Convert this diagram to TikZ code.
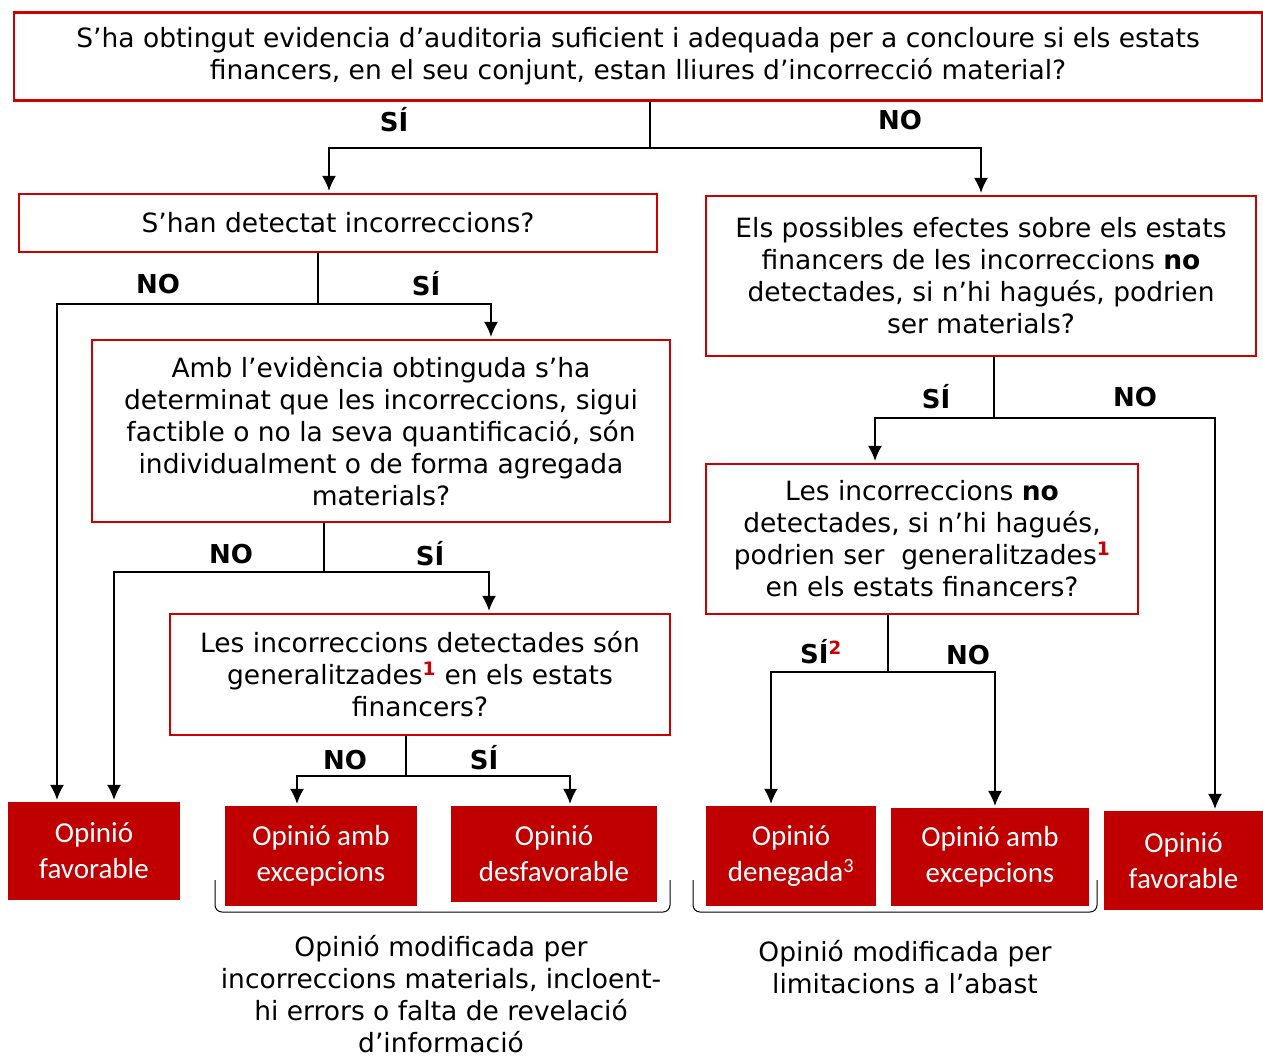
\documentclass[tikz,border=0pt]{standalone}
\usepackage{fontspec}
\setmainfont{DejaVu Sans}
\newfontfamily\calfont{Carlito}
\usetikzlibrary{arrows.meta, positioning}
\definecolor{boxred}{RGB}{204,0,0}
\definecolor{fillred}{RGB}{192,0,0}
\newcommand{\notemark}[1]{\textsuperscript{\textcolor{boxred}{\bfseries #1}}}
\tikzset{
  question/.style={rectangle, draw=boxred, line width=2.5pt, align=center, inner sep=0pt, font=\fontsize{26.5}{32}\selectfont},
  opinion/.style={rectangle, fill=fillred, text=white, align=center, inner sep=0pt, font=\calfont\fontsize{29}{36}\selectfont},
  answer/.style={font=\bfseries\fontsize{26}{30}\selectfont},
  link/.style={line width=1.2pt},
  arr/.style={line width=1.2pt, -{Latex[length=15pt,width=14pt]}, shorten >=2pt},
  bracket/.style={line width=1pt, rounded corners=7pt}
}

\begin{document}
\begin{tikzpicture}[x=1pt,y=-1pt]
\useasboundingbox (0,0) rectangle (1263,1055);

\node [question, minimum width=1248pt, minimum height=88pt] (top) at (638,56.5) {S’ha obtingut evidencia d’auditoria suficient i adequada per a concloure si els estats\\ financers, en el seu conjunt, estan lliures d’incorrecció material?};
\node [question, minimum width=638pt, minimum height=58pt] (q1) at (338,223) {S’han detectat incorreccions?};
\node [question, minimum width=550pt, minimum height=160pt] (q2) at (981,276) {Els possibles efectes sobre els estats\\ financers de les incorreccions \textbf{no}\\ detectades, si n’hi hagués, podrien\\ ser materials?};
\node [question, minimum width=578pt, minimum height=182pt] (q3) at (381,431) {Amb l’evidència obtinguda s’ha\\ determinat que les incorreccions, sigui\\ factible o no la seva quantificació, són\\ individualment o de forma agregada\\ materials?};
\node [question, minimum width=432pt, minimum height=150pt] (q4) at (922,539) {Les incorreccions \textbf{no}\\ detectades, si n’hi hagués,\\ podrien ser \ generalitzades\notemark{1}\\ en els estats financers?};
\node [question, minimum width=500pt, minimum height=121pt] (q5) at (420,674.5) {Les incorreccions detectades són\\ generalitzades\notemark{1} en els estats\\ financers?};

\node [opinion, minimum width=172pt, minimum height=98pt] (f1) at (94,851) {Opinió\\ favorable};
\node [opinion, minimum width=192pt, minimum height=100pt] (f2) at (321,856) {Opinió amb\\ excepcions};
\node [opinion, minimum width=206pt, minimum height=96pt] (f3) at (554,854) {Opinió\\ desfavorable};
\node [opinion, minimum width=170pt, minimum height=100pt] (f4) at (791,856) {Opinió\\ denegada\textsuperscript{3}};
\node [opinion, minimum width=198pt, minimum height=98pt] (f5) at (990,857) {Opinió amb\\ excepcions};
\node [opinion, minimum width=159pt, minimum height=99pt] (f6) at (1183.5,860.5) {Opinió\\ favorable};

\coordinate (s0) at (650,148);
\coordinate (s1) at (318,304);
\coordinate (s3) at (324,572);
\coordinate (s5) at (406,776);
\coordinate (s2) at (994,418);
\coordinate (s4) at (888,672);

\draw [link] (s0 |- top.south) -- (s0);
\draw [arr] (s0) -| ([xshift=-9pt]q1.north);
\draw [arr] (s0) -| (q2.north);
\draw [link] (s1 |- q1.south) -- (s1);
\draw [arr] (s1) -| ([xshift=-37pt]f1.north);
\draw [arr] (s1) -| ([xshift=110pt]q3.north);
\draw [link] (s3 |- q3.south) -- (s3);
\draw [arr] (s3) -| ([xshift=20pt]f1.north);
\draw [arr] (s3) -| ([xshift=69pt]q5.north);
\draw [link] (s5 |- q5.south) -- (s5);
\draw [arr] (s5) -| ([xshift=-24pt]f2.north);
\draw [arr] (s5) -| ([xshift=16pt]f3.north);
\draw [link] (s2 |- q2.south) -- (s2);
\draw [arr] (s2) -| ([xshift=-47pt]q4.north);
\draw [arr] (s2) -| ([xshift=31.5pt]f6.north);
\draw [link] (s4 |- q4.south) -- (s4);
\draw [arr] (s4) -| ([xshift=-20pt]f4.north);
\draw [arr] (s4) -| ([xshift=5pt]f5.north);

\node [answer] (a0l) at (394,120) {SÍ};
\node [answer] (a0r) at (900,120) {NO};
\node [answer] (a1l) at (158,284) {NO};
\node [answer] (a1r) at (426,284) {SÍ};
\node [answer] (a3l) at (231,554) {NO};
\node [answer] (a3r) at (430,554) {SÍ};
\node [answer] (a5l) at (345,760) {NO};
\node [answer] (a5r) at (484,758) {SÍ};
\node [answer] (a2l) at (936,397) {SÍ};
\node [answer] (a2r) at (1135,397) {NO};
\node [answer] (a4l) at (821,652) {SÍ\notemark{2}};
\node [answer] (a4r) at (968,655) {NO};

\draw [bracket] (215,880) -- (215,912) -- (670,912) -- (670,880);
\draw [bracket] (693,880) -- (693,912) -- (1097,912) -- (1097,880);

\node [align=center, inner sep=0pt, font=\fontsize{26.5}{32}\selectfont] (n1) at (441,994) {Opinió modificada per\\ incorreccions materials, incloent-\\ hi errors o falta de revelació\\ d’informació};
\node [align=center, inner sep=0pt, font=\fontsize{26.5}{32}\selectfont] (n2) at (905,967) {Opinió modificada per\\ limitacions a l’abast};
\end{tikzpicture}
\end{document}
